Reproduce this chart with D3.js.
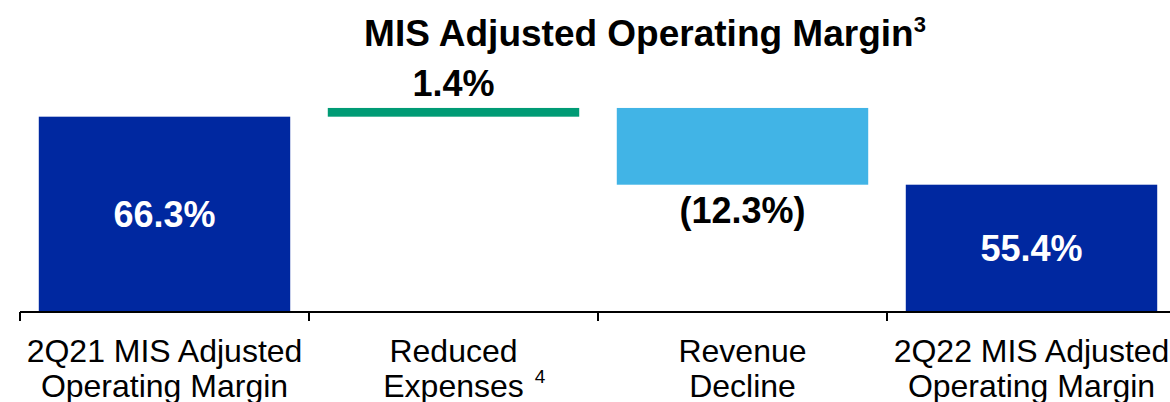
<!DOCTYPE html>
<html><head><meta charset="utf-8">
<script src="https://cdn.jsdelivr.net/npm/d3@7"></script>
<style>html,body{margin:0;padding:0;background:#fff;}svg{display:block;font-family:"Liberation Sans",Arial,sans-serif;}</style>
</head><body><svg id="c" width="1170" height="402"></svg>
<script>
const categories = ["2Q21 MIS Adjusted|Operating Margin", "Reduced|Expenses", "Revenue|Decline", "2Q22 MIS Adjusted|Operating Margin"];
const footnotes = ["", "4", "", ""];
const kinds = ["total", "delta", "delta", "total"];
const values = [66.3, 1.4, -12.3, 55.4];
const valueLabels = ["66.3%", "1.4%", "(12.3%)", "55.4%"];
const titleText = "MIS Adjusted Operating Margin";
const titleNote = "3";

const svg = d3.select("#c");
const W = 1170, axisY = 312;
const x = d3.scaleBand().domain(categories).range([20, 1176]).paddingInner(0.13).paddingOuter(0.065);
const y = d3.scaleLinear().domain([35, 85]).range([axisY, 0]);

let run = 0;
const bars = categories.map((c, i) => {
  let lo, hi;
  if (kinds[i] === "total") { lo = 35; hi = values[i]; run = values[i]; }
  else { const s = run; run = s + values[i]; lo = Math.min(s, run); hi = Math.max(s, run); }
  return {c, i, lo, hi, v: values[i], kind: kinds[i]};
});
const color = d => d.kind === "total" ? "#0028A0" : (d.v >= 0 ? "#009B75" : "#41B4E6");

svg.selectAll("rect.bar").data(bars).join("rect").attr("class","bar")
  .attr("x", d => x(d.c)).attr("width", x.bandwidth())
  .attr("y", d => y(d.hi)).attr("height", d => y(d.lo) - y(d.hi))
  .attr("fill", color);

// value labels
svg.selectAll("text.val").data(bars).join("text").attr("class","val")
  .attr("x", d => x(d.c) + x.bandwidth()/2)
  .attr("y", d => d.kind === "total" ? (y(d.hi)+y(d.lo))/2 + 12.5 : (d.v >= 0 ? y(d.hi) - 12 : y(d.lo) + 38))
  .attr("text-anchor","middle").attr("font-weight","bold").attr("font-size", 36)
  .attr("fill", d => d.kind === "total" ? "#fff" : "#000")
  .text((d) => valueLabels[d.i]);

// axis
const step = x.step();
const x0 = x.range()[0];
svg.append("line").attr("x1", x0).attr("x2", W).attr("y1", axisY).attr("y2", axisY).attr("stroke","#000").attr("stroke-width",2);
svg.selectAll("line.tick").data(d3.range(categories.length + 1)).join("line").attr("class","tick")
  .attr("x1", i => x0 + i*step).attr("x2", i => x0 + i*step)
  .attr("y1", axisY).attr("y2", axisY + 9).attr("stroke","#000").attr("stroke-width",2);

// category labels
categories.forEach((c, i) => {
  const cx = x0 + i*step + step/2;
  c.split("|").forEach((line, j) => {
    const t = svg.append("text").attr("x", cx).attr("y", 362 + j*35)
      .attr("text-anchor","middle").attr("font-size", 32).attr("fill","#000").text(line);
    if (j === 1 && footnotes[i]) {
      const w = t.node().getComputedTextLength();
      svg.append("text").attr("x", cx + w/2 + 11).attr("y", 362 + j*35 - 14)
        .attr("font-size", 19).attr("fill","#000").text(footnotes[i]);
    }
  });
});

// title
const tt = svg.append("text").attr("x", 645).attr("y", 46).attr("text-anchor","middle")
  .attr("font-weight","bold").attr("font-size", 37).attr("fill","#000");
tt.append("tspan").text(titleText);
tt.append("tspan").attr("font-size", 22).attr("dy", -14).text(titleNote);
</script></body></html>
